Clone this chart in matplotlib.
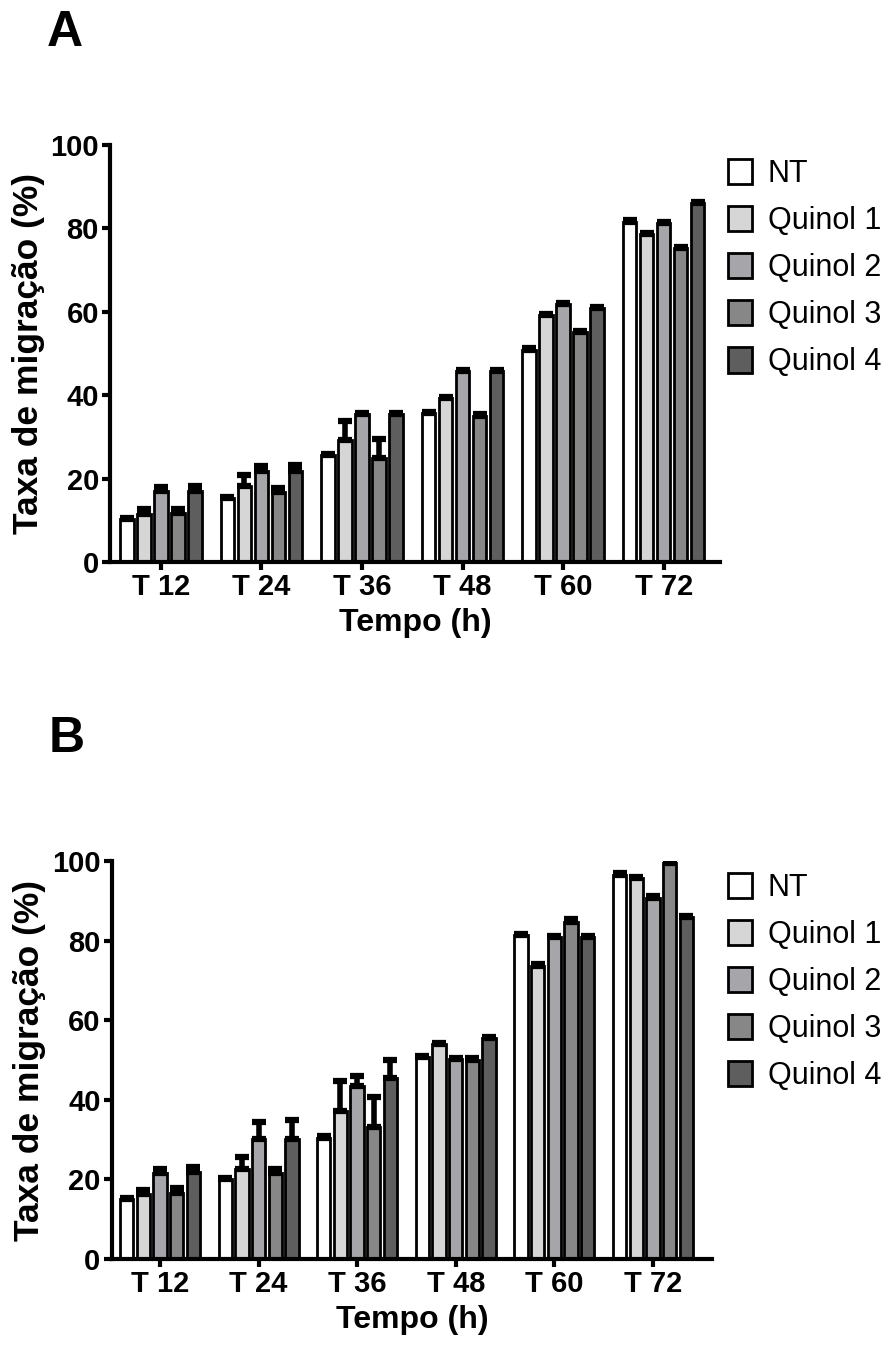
import numpy as np
import matplotlib
matplotlib.use("Agg")
import matplotlib.pyplot as plt

plt.rcParams['font.family'] = ['Liberation Sans', 'DejaVu Sans']

times = ["T 12", "T 24", "T 36", "T 48", "T 60", "T 72"]
groups = ["NT", "Quinol 1", "Quinol 2", "Quinol 3", "Quinol 4"]
colors = ["#ffffff", "#d6d6d6", "#a6a6aa", "#878787", "#5e5e5e"]

# painel A - medias
a_nt = [10.2, 15.3, 25.7, 35.7, 50.9, 81.6]
a_q1 = [11.6, 18.1, 29.3, 39.3, 59.2, 78.6]
a_q2 = [16.9, 21.9, 35.4, 45.7, 61.9, 81.2]
a_q3 = [11.7, 16.7, 24.9, 35.1, 55.2, 75.2]
a_q4 = [16.9, 21.9, 35.4, 45.7, 60.8, 86.1]
# painel A - erro (so para cima)
a_nt_err = [0.3, 0.3, 0.3, 0.3, 0.3, 0.3]
a_q1_err = [1.0, 2.7, 4.5, 0.3, 0.3, 0.3]
a_q2_err = [1.1, 1.1, 0.3, 0.3, 0.3, 0.3]
a_q3_err = [1.1, 1.1, 4.7, 0.3, 0.3, 0.3]
a_q4_err = [1.2, 1.4, 0.3, 0.3, 0.3, 0.3]

# painel B - medias
b_nt = [15.1, 20.1, 30.5, 50.7, 81.4, 96.6]
b_q1 = [16.3, 22.7, 37.3, 54.0, 73.7, 95.7]
b_q2 = [21.7, 30.1, 43.5, 50.3, 80.8, 90.8]
b_q3 = [16.6, 21.5, 33.1, 50.1, 84.7, 99.5]
b_q4 = [21.8, 30.2, 45.4, 55.6, 80.8, 85.9]
# painel B - erro
b_nt_err = [0.3, 0.3, 0.3, 0.3, 0.3, 0.3]
b_q1_err = [1.0, 3.0, 7.4, 0.3, 0.3, 0.3]
b_q2_err = [1.0, 4.3, 2.5, 0.3, 0.3, 0.3]
b_q3_err = [1.2, 1.1, 7.6, 0.3, 0.8, 0.3]
b_q4_err = [1.3, 4.7, 4.5, 0.3, 0.3, 0.3]


def panel(ax, means, errs, xlim):
    "Barras agrupadas com erro para cima"
    x = np.arange(len(times))
    pitch = 0.169
    for i in range(len(groups)):
        pos = x + (i - 2) * pitch
        ax.bar(pos, means[i], width=0.135, color=colors[i], edgecolor="black",
               linewidth=2.0, label=groups[i], zorder=2)
        ax.errorbar(pos, means[i], yerr=[np.zeros(len(times)), errs[i]], fmt="none",
                    ecolor="black", elinewidth=4, capsize=5, capthick=4.5, zorder=3)
    ax.set_xlim(xlim)
    ax.set_ylim(0, 100)
    ax.set_yticks([0, 20, 40, 60, 80, 100])
    ax.set_xticks(x)
    ax.set_xticklabels(times)
    for s in ["top", "right"]:
        ax.spines[s].set_visible(False)
    for s in ["left", "bottom"]:
        ax.spines[s].set_linewidth(3)
    ax.tick_params(axis="both", width=3, length=6, labelsize=21, pad=2)
    for lab in ax.get_xticklabels() + ax.get_yticklabels():
        lab.set_fontweight("bold")
    ax.set_xlabel("Tempo (h)", fontsize=23, fontweight="bold", labelpad=5)
    ax.set_ylabel("Taxa de migração (%)", fontsize=25.5, fontweight="bold", labelpad=4)


fig = plt.figure(figsize=(8.9, 13.47), dpi=100)

axA = fig.add_axes([0.1236, 0.5828, 0.6854, 0.3096])
panel(axA, [a_nt, a_q1, a_q2, a_q3, a_q4],
      [a_nt_err, a_q1_err, a_q2_err, a_q3_err, a_q4_err], (-0.505, 5.56))

axB = fig.add_axes([0.1255, 0.0653, 0.6745, 0.2955])
panel(axB, [b_nt, b_q1, b_q2, b_q3, b_q4],
      [b_nt_err, b_q1_err, b_q2_err, b_q3_err, b_q4_err], (-0.49, 5.6))

for ax, top in [(axA, 0.892), (axB, 0.362)]:
    h, l = ax.get_legend_handles_labels()
    h = [c.patches[0] if hasattr(c, "patches") else c for c in h]
    fig.legend(h, l, loc="upper left", bbox_to_anchor=(0.804, top - 0.001),
               frameon=False, fontsize=22, handlelength=0.8, handleheight=0.9,
               handletextpad=0.5, labelspacing=0.55, borderaxespad=0)

fig.text(0.052, 0.966, "A", fontsize=36, fontweight="bold")
fig.text(0.055, 0.4417, "B", fontsize=36, fontweight="bold")

plt.savefig("out.png", dpi=100)
